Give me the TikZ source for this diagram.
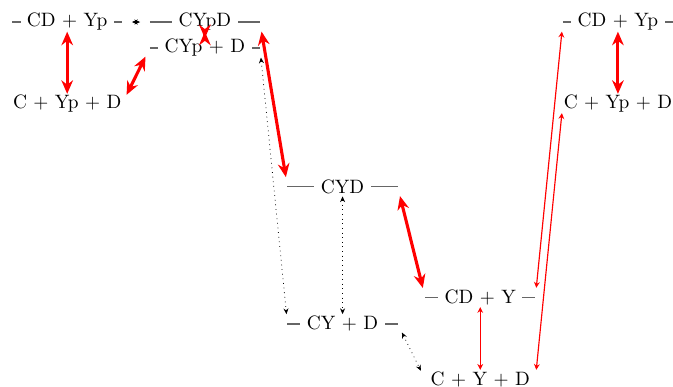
\documentclass[tikz,border=0pt]{standalone}
\usepackage{xcolor}
\usepackage{tikz}
\usetikzlibrary{arrows.meta}
\definecolor{lvlgrey}{HTML}{666666}

\begin{document}
\begin{tikzpicture}[
  enlevel/.style={draw=lvlgrey,thick},
  lbl/.style={fill=white},
  strong/.style={{Stealth[length=7pt,width=6pt]}-{Stealth[length=7pt,width=6pt]},red,ultra thick,shorten >=5pt,shorten <=5pt},
  weak/.style={{Stealth[length=3pt,width=3pt]}-{Stealth[length=3pt,width=3pt]},red,semithick,shorten >=5pt,shorten <=5pt},
  dots/.style={{Stealth[length=3pt,width=2.6pt]}-{Stealth[length=3pt,width=2.6pt]},dotted,shorten >=5pt,shorten <=5pt}
]
\useasboundingbox (-0.22,0) rectangle (12.0,7.02);
% energy levels
\draw[enlevel] (0,6.62) coordinate (cdypW) -- node[lbl] (cdyp) {CD + Yp} (2,6.62) coordinate (cdypE);
\draw[enlevel] (0,5.14) coordinate (freeW) -- node[lbl] (free) {C + Yp + D} (2,5.14) coordinate (freeE);
\draw[enlevel] (2.5,6.62) coordinate (cypdW) -- node[lbl] (cypd) {CYpD} (4.5,6.62) coordinate (cypdE);
\draw[enlevel] (2.5,6.15) coordinate (cypsepW) -- node[lbl] (cypsep) {CYp + D} (4.5,6.15) coordinate (cypsepE);
\draw[enlevel] (5,3.63) coordinate (cydW) -- node[lbl] (cyd) {CYD} (7,3.63) coordinate (cydE);
\draw[enlevel] (5,1.14) coordinate (cysepW) -- node[lbl] (cysep) {CY + D} (7,1.14) coordinate (cysepE);
\draw[enlevel] (7.5,1.62) coordinate (cdyW) -- node[lbl] (cdy) {CD + Y} (9.5,1.62) coordinate (cdyE);
\draw[enlevel] (7.5,0.13) coordinate (cyfreeW) -- node[lbl] (cyfree) {C + Y + D} (9.5,0.13) coordinate (cyfreeE);
\draw[enlevel] (10,6.62) coordinate (cdypRW) -- node[lbl] (cdypR) {CD + Yp} (12,6.62) coordinate (cdypRE);
\draw[enlevel] (10,5.14) coordinate (freeRW) -- node[lbl] (freeR) {C + Yp + D} (12,5.14) coordinate (freeRE);
% transitions
\draw[strong] (cdyp.center) -- (free.center);
\draw[strong] (freeE) -- (cypsepW);
\draw[dots] (cdypE) -- (cypdW);
\draw[strong] (cypd.center) -- (cypsep.center);
\draw[strong] (cypdE) -- (cydW);
\draw[dots] (cypsepE) -- (cysepW);
\draw[dots] (cyd.center) -- (cysep.center);
\draw[strong] (cydE) -- (cdyW);
\draw[dots] (cysepE) -- (cyfreeW);
\draw[weak] (cdy.center) -- (cyfree.center);
\draw[weak] (cdypRW) -- (cdyE);
\draw[weak] (freeRW) -- (cyfreeE);
\draw[strong] (cdypR.center) -- (freeR.center);
\end{tikzpicture}
\end{document}
